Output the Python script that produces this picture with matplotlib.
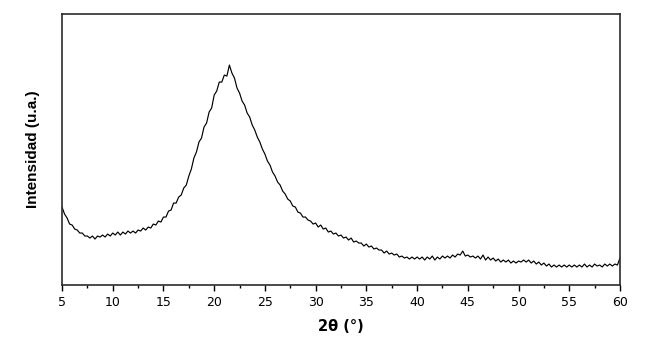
import numpy as np
import matplotlib
matplotlib.use('Agg')
import matplotlib.pyplot as plt
from matplotlib.ticker import MultipleLocator

# XRD pattern, 0.25 deg steps from 5 to 60 (one row per degree)
intensity = [
    78, 71, 67, 61,
    60, 56, 55, 52,
    52, 49, 49, 47,
    49, 46, 49, 48,
    50, 48, 51, 49,
    52, 50, 53, 50,
    53, 51, 54, 52,
    54, 52, 55, 54,
    57, 55, 58, 57,
    61, 60, 64, 63,
    68, 68, 74, 75,
    82, 82, 88, 90,
    97, 100, 109, 116,
    127, 133, 143, 147,
    158, 162, 173, 177,
    190, 194, 203, 203,
    210, 209, 220, 212,
    207, 197, 192, 184,
    180, 172, 168, 160,
    155, 148, 143, 136,
    131, 124, 120, 113,
    109, 103, 100, 94,
    91, 86, 84, 79,
    78, 73, 72, 68,
    68, 65, 64, 61,
    62, 58, 60, 56,
    57, 53, 54, 51,
    52, 49, 50, 47,
    48, 45, 47, 43,
    44, 42, 42, 39,
    41, 38, 39, 36,
    37, 35, 35, 32,
    34, 31, 32, 30,
    31, 28, 29, 27,
    28, 26, 28, 26,
    28, 26, 28, 25,
    28, 26, 29, 25,
    28, 26, 29, 27,
    29, 27, 30, 28,
    31, 30, 34, 29,
    30, 28, 29, 27,
    29, 26, 30, 25,
    28, 25, 27, 24,
    26, 23, 25, 23,
    25, 22, 24, 22,
    24, 23, 25, 23,
    25, 22, 24, 21,
    23, 20, 22, 19,
    21, 18, 20, 18,
    20, 18, 20, 18,
    20, 18, 20, 18,
    20, 18, 21, 18,
    20, 18, 21, 19,
    20, 18, 21, 19,
    21, 19, 21, 20,
    27,
]
two_theta = np.linspace(5, 60, len(intensity))

xticks = [5, 10, 15, 20, 25, 30, 35, 40, 45, 50, 55, 60]

fig = plt.figure(figsize=(6.5, 3.43), dpi=100)
ax = fig.add_axes([0.0954, 0.169, 0.8584, 0.790])

ax.plot(two_theta, intensity, color='black', lw=0.85)

ax.set_xlim(5, 60)
ax.set_ylim(0, 271)
ax.set_xticks(xticks)
ax.set_xticklabels([str(t) for t in xticks], family='DejaVu Sans', fontsize=9)
ax.xaxis.set_minor_locator(MultipleLocator(2.5))
ax.set_yticks([])
ax.tick_params(axis='x', which='major', direction='out', length=4, width=1, pad=4)
ax.tick_params(axis='x', which='minor', direction='out', length=2.5, width=1)

for s in ax.spines.values():
    s.set_linewidth(1.2)
    s.set_color('#2b2b2b')

ax.set_xlabel('2θ (°)', family='DejaVu Sans', fontweight='bold', fontsize=10.5, labelpad=7)
ax.set_ylabel('Intensidad (u.a.)', family='Liberation Sans', fontweight='bold', fontsize=11, labelpad=16)

fig.savefig('out.png', dpi=100)
